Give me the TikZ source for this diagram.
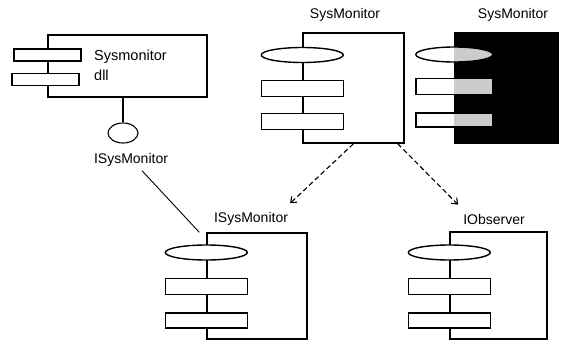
\documentclass[tikz,border=0pt]{standalone}
\usepackage{fontspec}
\setmainfont{Liberation Sans}
\usetikzlibrary{shapes.geometric,arrows.meta}

\tikzset{
  comp/.style={draw, line width=1.4pt, fill=white, inner sep=0pt},
  plug/.style={draw, line width=1.4pt, fill=white, inner sep=0pt, minimum width=82pt, minimum height=16pt},
  port/.style={ellipse, draw, line width=1.4pt, fill=white, inner sep=0pt, minimum width=82pt, minimum height=15pt},
  ctitle/.style={font=\fontsize{14}{20}\selectfont, inner sep=1pt},
  dep/.style={line width=1.1pt, dash pattern=on 5pt off 3pt, -{Straight Barb[length=5pt,width=8pt]}},
}

\begin{document}
\begin{tikzpicture}[x=1pt, y=-1pt]
\useasboundingbox (0,0) rectangle (563,340);

% the dll with its lollipop interface
\node[comp, minimum width=159pt, minimum height=62pt] (dll) at (127.5,66) {};
\node[plug, minimum width=67pt, minimum height=12pt] (dll-a) at (47.5,55) {};
\node[plug, minimum width=67pt, minimum height=12pt] (dll-b) at (45.5,79.5) {};
\node[ctitle, font=\fontsize{14.5}{20}\selectfont, anchor=west, align=left] (dll-txt) at (93,65) {Sysmonitor\\dll};
\node[ellipse, draw, line width=1.1pt, minimum width=30pt, minimum height=20pt, inner sep=0pt] (ifc) at (123,133) {};
\draw[line width=1.1pt] (ifc.north) -- (ifc.north |- dll.south);
\node[ctitle] (ifc-lbl) at (131,160) {ISysMonitor};

% SysMonitor
\node[ctitle] (sm-title) at (345,15) {SysMonitor};
\node[comp, minimum width=101pt, minimum height=110pt] (sm) at (353.5,88) {};
\node[port] (sm-p) at (sm.west |- 0,55) {};
\node[plug] (sm-a) at (sm.west |- 0,88.5) {};
\node[plug] (sm-b) at (sm.west |- 0,121.5) {};

% SysMonitor, dark copy: the parts inside the box are dimmed
\node[ctitle] (smd-title) at (513,15) {SysMonitor};
\node[comp, fill=black, minimum width=103pt, minimum height=110pt] (smd) at (506.5,88) {};
\node[port, minimum width=77pt] (smd-p) at (smd.west |- 0,54.5) {};
\node[plug, minimum width=77pt] (smd-a) at (smd.west |- 0,86.5) {};
\node[plug, minimum width=77pt, minimum height=14pt] (smd-b) at (smd.west |- 0,120) {};
\fill[black, fill opacity=0.2] (smd.north west) rectangle (smd.south east);

% ISysMonitor
\node[ctitle] (isys-title) at (251,219) {ISysMonitor};
\node[comp, minimum width=100pt, minimum height=106pt] (isys) at (257,286) {};
\node[port] (isys-p) at (isys.west |- 0,252.5) {};
\node[plug] (isys-a) at (isys.west |- 0,286.5) {};
\node[plug, minimum height=15pt] (isys-b) at (isys.west |- 0,320.5) {};

% IObserver
\node[ctitle] (iobs-title) at (494,219) {IObserver};
\node[comp, minimum width=97pt, minimum height=107pt] (iobs) at (498.5,285.5) {};
\node[port] (iobs-p) at (iobs.west |- 0,252.5) {};
\node[plug] (iobs-a) at (iobs.west |- 0,286.5) {};
\node[plug, minimum height=15pt] (iobs-b) at (iobs.west |- 0,320.5) {};

% connectors
\draw[line width=0.9pt] ([xshift=11pt,yshift=-3pt]ifc-lbl.south) -- ([xshift=-7pt]isys.north west);
\draw[dep] (sm.south) -- ([xshift=1pt,yshift=8pt]isys-title.north east);
\draw[dep] ([xshift=-7pt]sm.south east) -- ([xshift=-4pt,yshift=8pt]iobs-title.north west);
\end{tikzpicture}
\end{document}
